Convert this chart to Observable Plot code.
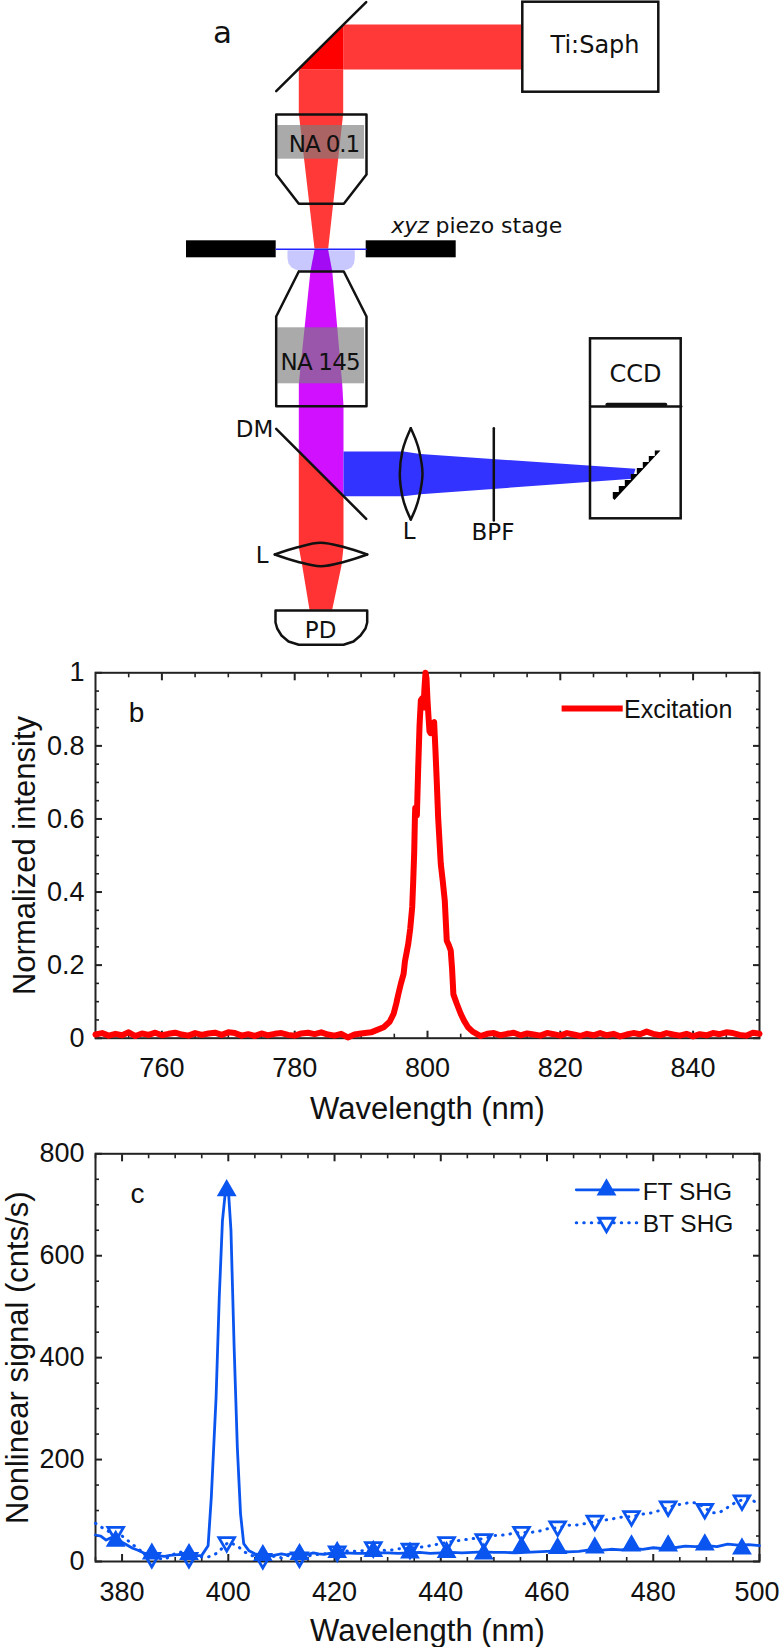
<!DOCTYPE html>
<html>
<head>
<meta charset="utf-8">
<script src="https://cdn.jsdelivr.net/npm/d3@7"></script>
<script src="https://cdn.jsdelivr.net/npm/@observablehq/plot@0.6"></script>
<style>
html,body{margin:0;padding:0;background:#fff}
svg{display:block;overflow:hidden}
</style>
</head>
<body>
<div id="a"></div><div id="b"></div><div id="c"></div>
<script>
// ---------- panel b data ----------
const excitationNm = [750,751,752,753,754,755,756,757,758,759,760,761,762,763,764,765,766,767,768,769,770,771,772,773,774,775,776,777,778,779,780,781,782,783,784,785,786,787,788,789,790,791.5,
793.4,794.3,794.9,795.3,795.6,796,796.4,796.6,797.1,797.4,797.7,797.85,798,798.1,798.15,798.3,798.4,798.6,798.8,799,799.2,799.4,799.55,799.7,799.85,800,800.15,800.3,800.45,800.7,801,801.2,801.4,801.6,802,802.3,802.6,802.9,803.2,803.5,803.7,803.9,804.4,805,805.5,806.1,806.8,807.6,
808,809,810,811,812,813,814,815,816,817,818,819,820,821,822,823,824,825,826,827,828,829,830,831,832,833,834,835,836,837,838,839,840,841,842,843,844,845,846,847,848,849,850];
const excitationValue = [.010,.014,.007,.012,.008,.016,.006,.013,.009,.015,.008,.012,.015,.010,.007,.014,.009,.013,.015,.009,.016,.014,.007,.011,.006,.013,.008,.012,.014,.009,.007,.013,.015,.011,.016,.010,.007,.012,.002,.010,.013,.016,
.030,.045,.067,.095,.120,.150,.176,.210,.258,.300,.360,.430,.510,.600,.630,.620,.610,.740,.855,.925,.930,.905,.960,1.0,.985,.925,.880,.840,.835,.860,.865,.787,.700,.605,.477,.430,.377,.267,.255,.240,.190,.120,.095,.067,.048,.030,.018,.010,
.006,.012,.014,.008,.012,.015,.008,.013,.010,.007,.014,.011,.007,.014,.010,.006,.012,.008,.014,.008,.012,.005,.010,.014,.011,.018,.012,.008,.014,.010,.007,.012,.005,.011,.008,.014,.011,.016,.014,.009,.007,.015,.012];
const excitationLegendX = [820.2,829.4];
const excitationTicksMajor = [760,780,800,820,840];
const ticks5nmB = [755,765,770,775,785,790,795,805,810,815,825,830,835,845];
const intensityMajor = [0,.2,.4,.6,.8,1];
const intensityMinor = [.05,.1,.15,.25,.3,.35,.45,.5,.55,.65,.7,.75,.85,.9,.95];

// ---------- panel c data ----------
const ftNm = [375,376,377,378,379,380,381,382,383,384,385,386,387,388,389,390,391,392,393,394,395,396.2,396.8,397.7,398.3,398.9,399.5,400,400.5,401.1,401.7,402.3,402.9,403.9,405,406,407,408,409,410,411,412,413,414,415,416,417,418,419,420,422,424,426,428,430,432,434,436,438,440,442,444,446,448,450,452,454,456,458,460,462,464,466,468,470,472,474,476,478,480,482,484,486,488,490,492,494,496,498,500];
const ftValue = [52,50,42,47,45,38,32,26,22,17,14,12,11,10,12,13,14,12,11,11,12,31,126,322,519,669,731,731,650,420,224,94,35,21,15,13,12,11,13,15,13,16,14,15,14,17,15,14,16,15,17,16,16,17,17,16,17,18,16,17,18,17,18,19,18,18,17,18,19,20,21,19,20,23,22,24,23,26,24,27,25,27,30,29,31,29,34,32,33,31,33];
const btNm = [375,376,377,378,379,380,381,382,383,384,385,386,387,388,389,390,391,392,393,394,395,396,397,398,399,400,401,402,403,404,405,406,407,408,409,410,411,412,413,414,416,418,420,422,424,426,428,430,432,434,436,438,440,442,444,446,448,450,452,454,456,458,460,462,464,466,468,470,472,474,476,478,480,482,484,486,487,488,489,490,491,492,493,494,495,496,497,498,499,500];
const btValue = [75,68,62,56,52,50,42,33,26,16,11,9,6,4,10,16,19,10,7,8,9,8,12,17,28,38,34,28,19,14,9,8,5,9,11,7,12,10,9,8,13,15,18,21,20,22,24,21,25,26,28,31,35,39,42,45,44,51,52,56,57,58,64,66,71,72,76,80,83,87,88,93,96,103,110,114,116,115,110,103,96,95,99,106,113,118,122,125,118,116];
const markerNm = [378.8,385.6,392.6,399.7,406.5,413.4,420.5,427.3,434.2,441.1,448.1,455.2,462,469,475.9,482.8,489.7,496.7];
const ftMarker = [40,15,14,728,12,14,18,20,17,18,15,28,26,27,31,31,33,25];
const btMarker = [58,7,7,38,5,8,20,28,25,38,44,58,69,80,89,108,103,120];
const signalMajor = [0,200,400,600,800];
const signalMinor = [50,100,150,250,300,350,450,500,550,650,700,750];
const shgTicksMajor = [380,400,420,440,460,480,500];
const ticks5nmC = [375,385,390,395,405,410,415,425,430,435,445,450,455,465,470,475,485,490,495];

// ---------- panel a schematic outlines ----------
const redBeamH = [[342.7,24],[522.3,24],[522.3,69],[342.7,69]];
const mirrorOverlap = [[342.7,24],[342.7,69],[298.3,69]];
const redBeamV = [[298.3,69],[342.7,69],[342.7,113],[327.7,248],[314,248],[298.3,113]];
const oilDrop = [[287,249.7],[287,258],[288,263],[291,267],[295,269],[300,270],[341,270],[347,269],[351,267],[353.5,263],[354.3,258],[354.3,249.7]];
const oilPurple = [[314,249.5],[327.7,249.5],[331.7,270.5],[310,270.5]];
const magentaBeam = [[310,270],[331.7,270],[341.7,383.3],[343,406],[343,495.6],[298.3,451],[298.3,383.3]];
const redBeamLow = [[298.3,451],[343,495.6],[343,546.7],[341,565],[331.7,609.3],[309,609.3],[301.7,565],[298.3,546.7]];
const blueBeam = [[343,451],[403,451],[420,453.5],[635,468.3],[632,478.3],[420,493.7],[403,495.7],[343,495.7]];
const bands = [[277.3,125,364,158.7],[277.3,327.3,364,383.3]];
const stageBlocks = [[186,240.3,275.7,257.3],[365.7,240.3,455.7,257.3]];
const boxes = [[522.3,1.7,658.3,91.7],[590,338.3,680.7,518.3]];
const upperObjective = [[275.7,114],[366,114],[366,174],[343.3,203.3],[298.3,203.3],[275.7,174],[275.7,114]];
const lowerObjective = [[298.3,271],[343.3,271],[366,316],[366,405.7],[275.7,405.7],[275.7,316],[298.3,271]];
const detector = [[606.7,404],[665,404]];
const divider = [[590,406],[680.7,406]];
const topMirror = [[275.7,90.7],[365.7,1.7]];
const dichroic = [[275.7,428.3],[365.7,518.3]];
const slide = [[275.7,248.7],[365.7,248.7]];
const filter = [[493.3,427.7],[493.3,520]];
const lensVL = [[410.3,427.7],[405.5,439],[402,450],[399.3,473.3],[402,496.5],[405.5,508],[410.3,519]];
const lensVR = [[410.3,427.7],[415.1,439],[418.6,450],[422,473.3],[418.6,496.5],[415.1,508],[410.3,519]];
const lensHT = [[274.3,554],[297,546.8],[320,542.3],[344,546.8],[366.7,554]];
const lensHB = [[274.3,554],[297,561.2],[320,565.7],[344,561.2],[366.7,554]];
const photodiode = [[275,610],[366.7,610],[366.7,622],[365,628],[360,635],[353,641],[343,644.3],[298.3,644.3],[288,641],[281,635],[276.7,628],[275,622],[275,610]];
const grating = [[612.3,497.7],[612.3,491.5],[618.3,491.5],[618.3,485.5],[624.3,485.5],[624.3,479.5],[630.3,479.5],[630.3,473.5],[636.3,473.5],[636.3,467.5],[642.3,467.5],[642.3,461.5],[648.3,461.5],[648.3,455.5],[654.3,455.5],[654.3,450],[660,450],[614,499.5]];
const labelsA = [
  {t:"a",x:212.5,y:42.7,s:31,c:"#111"},
  {t:"Ti:Saph",x:550,y:52.7,s:24,c:"#111"},
  {t:"NA 0.1",x:288.3,y:151.7,s:23,c:"#111"},
  {t:"piezo stage",x:435,y:232.3,s:22,c:"#111"},
  {t:"NA 145",x:280,y:369.3,s:23,c:"#111"},
  {t:"CCD",x:609,y:381,s:24,c:"#111"},
  {t:"DM",x:235.3,y:436.7,s:23,c:"#111"},
  {t:"L",x:402.3,y:538.3,s:23,c:"#111"},
  {t:"BPF",x:471,y:539.3,s:23,c:"#111"},
  {t:"L",x:255.3,y:562.3,s:23,c:"#111"},
  {t:"PD",x:304.3,y:637.3,s:23,c:"#111"}
];
const italicLabel = [{t:"xyz",x:390.7,y:232.3}];

// ---------- shared ----------
const SANS = "'Liberation Sans', Arial, sans-serif";
const INK = "#222";
const RED = "#ff0000";
const BLUE = "#0a55f0";
const DOTS = "0.5 7";
const px = d => d[0], py = d => d[1];
const poly = (pts, fill, extra = {}) => Plot.line(pts, {x: px, y: py, fill, stroke: "none", ...extra});
const path = (pts, strokeWidth = 2.5, stroke = "#111", extra = {}) => Plot.line(pts, {x: px, y: py, stroke, strokeWidth, ...extra});

// ---------- panel a ----------
const schematic = Plot.plot({
  width: 780, height: 650, margin: 0,
  x: {domain: [0, 780], range: [0, 780], axis: null},
  y: {domain: [0, 650], range: [0, 650], axis: null},
  style: {fontFamily: "'DejaVu Sans', sans-serif", background: "white"},
  marks: [
    poly(redBeamH, "#ff3838"),
    poly(redBeamV, "#ff3838"),
    poly(mirrorOverlap, "#ff0000"),
    poly(oilDrop, "#c8c8ff"),
    poly(oilPurple, "#a30bf5"),
    poly(magentaBeam, "#d010ff"),
    poly(redBeamLow, "#ff3333"),
    poly(blueBeam, "#3333ff"),
    Plot.rect(bands, {x1: d => d[0], y1: d => d[1], x2: d => d[2], y2: d => d[3], fill: "#7d7d7d", fillOpacity: 0.65}),
    Plot.rect(stageBlocks, {x1: d => d[0], y1: d => d[1], x2: d => d[2], y2: d => d[3], fill: "black"}),
    Plot.rect(boxes, {x1: d => d[0], y1: d => d[1], x2: d => d[2], y2: d => d[3], fill: "none", stroke: "#111", strokeWidth: 2.5}),
    path(slide, 1.6, "#2222ff"),
    path(topMirror), path(dichroic), path(filter, 2.5),
    path(upperObjective), path(lowerObjective), path(divider),
    path(detector, 3.5),
    poly(grating, "black"),
    path(lensVL, 2.5, "#111", {curve: "catmull-rom"}), path(lensVR, 2.5, "#111", {curve: "catmull-rom"}),
    path(lensHT, 2.5, "#111", {curve: "catmull-rom"}), path(lensHB, 2.5, "#111", {curve: "catmull-rom"}),
    path(photodiode),
    Plot.text(labelsA, {x: "x", y: "y", text: "t", fontSize: "s", fill: "c", textAnchor: "start", lineAnchor: "bottom"}),
    Plot.text(italicLabel, {x: "x", y: "y", text: "t", fontSize: 22, fontStyle: "italic", fill: "#111", textAnchor: "start", lineAnchor: "bottom"})
  ]
});
d3.select(schematic).selectAll("text").each(function() {
  const t = this.textContent;
  if (t === "NA 0.1") d3.select(this).style("letter-spacing", "-1.1px");
  if (t === "NA 145") d3.select(this).style("letter-spacing", "-.8px");
});
document.getElementById("a").append(schematic);

// inward ticks on all four sides
function ticksAll(xMajor, xMinor, yMajor, yMinor) {
  const c = {stroke: INK, strokeWidth: 2};
  const m = {stroke: INK, strokeWidth: 1.6};
  return [
    Plot.axisX({anchor: "bottom", ticks: xMajor, tickSize: -7, text: null, label: null, ...c}),
    Plot.axisX({anchor: "top", ticks: xMajor, tickSize: -7, text: null, label: null, ...c}),
    Plot.axisX({anchor: "bottom", ticks: xMinor, tickSize: -4, text: null, label: null, ...m}),
    Plot.axisX({anchor: "top", ticks: xMinor, tickSize: -4, text: null, label: null, ...m}),
    Plot.axisY({anchor: "left", ticks: yMajor, tickSize: -7, text: null, label: null, ...c}),
    Plot.axisY({anchor: "right", ticks: yMajor, tickSize: -7, text: null, label: null, ...c}),
    Plot.axisY({anchor: "left", ticks: yMinor, tickSize: -4, text: null, label: null, ...m}),
    Plot.axisY({anchor: "right", ticks: yMinor, tickSize: -4, text: null, label: null, ...m})
  ];
}
const xLabels = (ticks, extra = {}) => Plot.axisX({anchor: "bottom", ticks, tickSize: 0, tickPadding: 20, label: null, fontSize: 27, tickFormat: d => String(d), fill: "#111", lineAnchor: "top", ...extra});
const yLabels = (ticks) => Plot.axisY({anchor: "left", ticks, tickSize: 0, tickPadding: 11, label: null, fontSize: 27, tickFormat: d => String(d), fill: "#111"});

// ---------- panel b ----------
const excitation = excitationNm.map((x, i) => ({x, y: excitationValue[i]}));
const b = Plot.plot({
  width: 780, height: 480,
  marginLeft: 95, marginRight: 21, marginTop: 22.3, marginBottom: 92.3,
  x: {domain: [750, 850]}, y: {domain: [0, 1]},
  style: {fontFamily: SANS, background: "white"},
  marks: [
    Plot.frame({stroke: INK, strokeWidth: 2}),
    ...ticksAll(excitationTicksMajor, ticks5nmB, intensityMajor, intensityMinor),
    xLabels(excitationTicksMajor),
    yLabels(intensityMajor),
    Plot.line(excitation, {x: "x", y: "y", stroke: RED, strokeWidth: 6}),
    Plot.line(excitationLegendX.map(x => ({x})), {x: "x", y: () => .902, stroke: RED, strokeWidth: 6, strokeLinecap: "butt"}),
    Plot.text(["Excitation"], {x: () => 829.6, y: () => .875, textAnchor: "start", lineAnchor: "bottom", fontSize: 25, fill: "#111"}),
    Plot.text(["b"], {x: () => 755, y: () => .864, textAnchor: "start", lineAnchor: "bottom", fontSize: 28, fill: "#111"}),
    Plot.text(["Wavelength (nm)"], {frameAnchor: "bottom", dy: 80.5, lineAnchor: "bottom", fontSize: 31, fill: "#111"}),
    Plot.text(["Normalized intensity"], {frameAnchor: "left", textAnchor: "middle", rotate: -90, dx: -61, lineAnchor: "bottom", fontSize: 31, fill: "#111"})
  ]
});
document.getElementById("b").append(b);

// ---------- panel c ----------
const ft = ftNm.map((x, i) => ({x, y: ftValue[i]}));
const bt = btNm.map((x, i) => ({x, y: btValue[i]}));
const c = Plot.plot({
  width: 780, height: 517,
  marginLeft: 95, marginRight: 21, marginTop: 23.3, marginBottom: 86,
  x: {domain: [375, 500]}, y: {domain: [0, 800]},
  style: {fontFamily: SANS, background: "white"},
  marks: [
    Plot.frame({stroke: INK, strokeWidth: 2}),
    ...ticksAll(shgTicksMajor, ticks5nmC, signalMajor, signalMinor),
    xLabels(shgTicksMajor.slice(0, -1)),
    xLabels(shgTicksMajor.slice(-1), {dx: -2.5}),
    yLabels(signalMajor),
    Plot.line(bt, {x: "x", y: "y", stroke: BLUE, strokeWidth: 3, strokeDasharray: DOTS}),
    Plot.line(ft, {x: "x", y: "y", stroke: BLUE, strokeWidth: 2.8}),
    Plot.dot(markerNm.map((x, i) => ({x, y: btMarker[i]})), {x: "x", y: "y", symbol: "triangle", rotate: 180, r: 5.8, stroke: BLUE, strokeWidth: 2.8, fill: "none"}),
    Plot.dot(markerNm.map((x, i) => ({x, y: ftMarker[i]})), {x: "x", y: "y", symbol: "triangle", r: 6.4, fill: BLUE, stroke: BLUE}),
    Plot.line([465.5, 477.2].map(x => ({x})), {x: "x", y: () => 729.4, stroke: BLUE, strokeWidth: 2.8}),
    Plot.dot([471.2], {x: d => d, y: () => 729.4, symbol: "triangle", r: 6.4, fill: BLUE, stroke: BLUE}),
    Plot.line([465.5, 477.2].map(x => ({x})), {x: "x", y: () => 664.7, stroke: BLUE, strokeWidth: 3, strokeDasharray: DOTS}),
    Plot.dot([471.2], {x: d => d, y: () => 664.7, symbol: "triangle", rotate: 180, r: 5.8, stroke: BLUE, strokeWidth: 2.8, fill: "white"}),
    Plot.text(["FT SHG"], {x: () => 478, y: () => 709.8, textAnchor: "start", lineAnchor: "bottom", fontSize: 24.5, fill: "#111"}),
    Plot.text(["BT SHG"], {x: () => 478, y: () => 647, textAnchor: "start", lineAnchor: "bottom", fontSize: 24.5, fill: "#111"}),
    Plot.text(["c"], {x: () => 381.6, y: () => 703.9, textAnchor: "start", lineAnchor: "bottom", fontSize: 28, fill: "#111"}),
    Plot.text(["Wavelength (nm)"], {frameAnchor: "bottom", dy: 79, lineAnchor: "bottom", fontSize: 31, fill: "#111"}),
    Plot.text(["Nonlinear signal (cnts/s)"], {frameAnchor: "left", textAnchor: "middle", rotate: -90, dx: -67.5, lineAnchor: "bottom", fontSize: 31, fill: "#111"})
  ]
});
document.getElementById("c").append(c);
</script>
</body>
</html>
